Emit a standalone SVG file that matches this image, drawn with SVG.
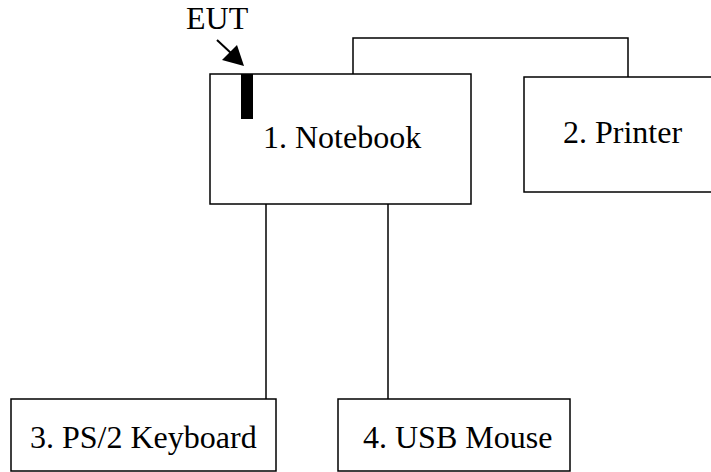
<svg xmlns="http://www.w3.org/2000/svg" width="711" height="472" viewBox="0 0 711 472">
<style>
.box{fill:#fff;stroke:#000;stroke-width:1.5}
.ln{fill:none;stroke:#000;stroke-width:1.5}
.t{font-family:'Liberation Serif','Times New Roman',Times,'DejaVu Serif','Noto Serif',serif;font-size:32px;fill:#000}
</style>
<rect width="711" height="472" fill="#fff"/>
<g id="connectors">
<polyline class="ln" points="353,74 353,38 628,38 628,77"/>
<line class="ln" x1="266" y1="204" x2="266" y2="399"/>
<line class="ln" x1="388" y1="204" x2="388" y2="399"/>
<line x1="217" y1="40" x2="232" y2="54" stroke="#000" stroke-width="2"/>
<polygon points="244,66 222,60 237,45" fill="#000"/>
</g>
<g id="eut-label">
<text class="t" x="186" y="29">EUT</text>
</g>
<g id="notebook">
<rect class="box" x="210" y="74" width="261" height="130"/>
<rect x="241" y="74" width="12" height="45" fill="#000"/>
<text class="t" x="263" y="148">1. Notebook</text>
</g>
<g id="printer">
<rect class="box" x="524" y="77" width="200" height="115"/>
<text class="t" x="563" y="143">2. Printer</text>
</g>
<g id="keyboard">
<rect class="box" x="11" y="399" width="265" height="72"/>
<text class="t" x="30" y="448">3. PS/2 Keyboard</text>
</g>
<g id="mouse">
<rect class="box" x="338" y="399" width="232" height="72"/>
<text class="t" x="363" y="448">4. USB Mouse</text>
</g>
</svg>
